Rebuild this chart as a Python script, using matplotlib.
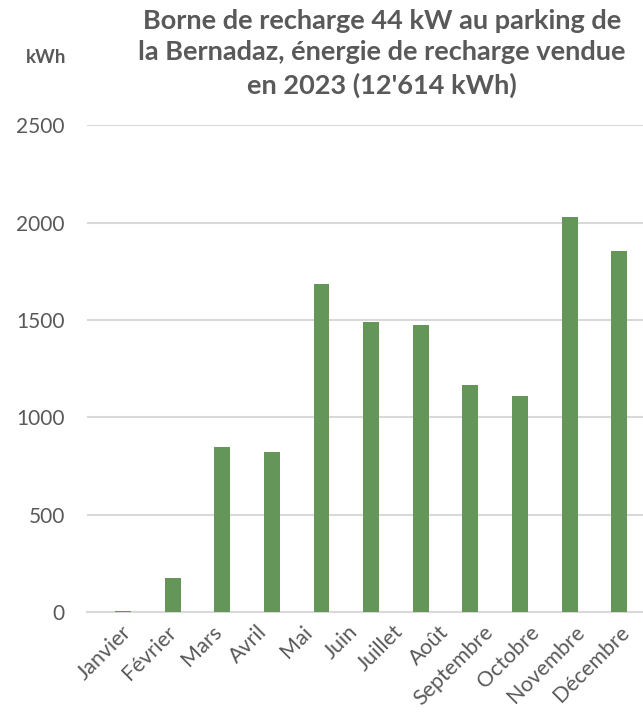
import matplotlib.pyplot as plt
import numpy as np

# energy sold per month (kWh); the bars stop at November
mois = ["Janvier", "Février", "Mars", "Avril", "Mai", "Juin", "Juillet",
        "Août", "Septembre", "Octobre", "Novembre", "Décembre"]
energie = [5, 175, 848, 822, 1685, 1490, 1475, 1166, 1110, 2030, 1855]
yticks = [0, 500, 1000, 1500, 2000, 2500]

vert = "#64965A"
gris = "#595959"
plt.rcParams["font.family"] = ["Lato", "DejaVu Sans"]

fig = plt.figure(figsize=(6.43, 7.15), dpi=100)
ax = fig.add_axes([0.1353, 0.144, 0.8647, 0.681])

x = np.arange(len(energie))
ax.bar(x, energie, width=0.32, color=vert, zorder=3)

ax.set_ylim(0, 2500)
ax.set_xlim(-0.726, 10.48)
ax.set_yticks(yticks)
ax.set_yticklabels([str(v) for v in yticks])
ax.yaxis.grid(True, color="#D9D9D9", linewidth=1.5, zorder=0)

# month labels are packed a bit tighter than the bars
pos_lbl = -0.04 + 0.913 * np.arange(len(mois))
ax.set_xticks(pos_lbl)
ax.set_xticklabels(mois, rotation=45, ha="right", rotation_mode="anchor")

for s in ["top", "right", "left"]:
    ax.spines[s].set_visible(False)
ax.spines["bottom"].set_color("#D9D9D9")
ax.spines["bottom"].set_linewidth(1.5)
ax.tick_params(axis="both", length=0, colors=gris)
ax.tick_params(axis="y", pad=16, labelsize=15)
ax.tick_params(axis="x", pad=7, labelsize=15.5)

fig.text(0.594, 0.988, "Borne de recharge 44 kW au parking de\n"
         "la Bernadaz, énergie de recharge vendue\n"
         "en 2023 (12'614 kWh)",
         ha="center", va="top", fontsize=19.5, fontweight="bold",
         color=gris, linespacing=1.38)
fig.text(0.072, 0.92, "kWh", ha="center", va="center", fontsize=13.5,
         fontweight="bold", color=gris)

fig.savefig("out.png", dpi=100)
